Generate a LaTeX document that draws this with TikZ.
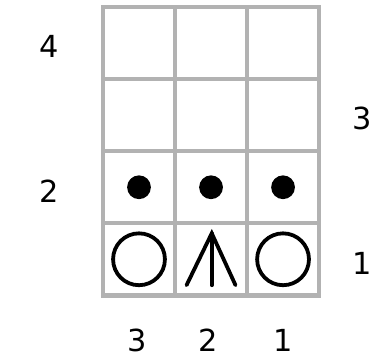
\documentclass[tikz,border=0pt]{standalone}
\usepackage{fontspec}
\setmainfont{DejaVu Sans}
\usetikzlibrary{positioning, calc}
\tikzset{
    gridline/.style={draw=gray!60, line width=1.75pt, line cap=rect},
    rowlabel/.style={font=\fontsize{12}{14}\selectfont, inner sep=0pt},
    dotmark/.style={circle, fill=black, inner sep=0pt, minimum size=0.33cm},
    ringmark/.style={circle, draw=black, line width=1.5pt, inner sep=0pt, minimum size=0.72cm},
    stitch/.style={line width=1.5pt, line cap=round}
}

\begin{document}
\begin{tikzpicture}
			\useasboundingbox (-1.43,-0.93) rectangle (3.86,4.10);
			% Chart grid
			\draw [gridline] (0,0) grid (3,4);
			
			% Row 2
			\node (dot_a) [dotmark] at (0.5,1.5) {};
			\node (dot_b) [dotmark] at (1.5,1.5) {};
			\node (dot_c) [dotmark] at (2.5,1.5) {};
			
			% Row 1
			\node (yo_a) [ringmark] at (0.5,0.5) {};
			\node (yo_b) [ringmark] at (2.5,0.5) {};
			\coordinate (cdd_top) at (1.51,0.86);
			\coordinate (cdd_left) at (1.16,0.14);
			\coordinate (cdd_mid) at (1.51,0.14);
			\coordinate (cdd_right) at (1.84,0.14);
			\draw [stitch] (cdd_left) -- (cdd_top) -- (cdd_right);
			\draw [stitch] (cdd_top) -- (cdd_mid);
			
			% Row numbers
			\node (row4) [rowlabel] at (-0.75,3.45) {4};
			\node (row2) [rowlabel] at (-0.75,1.45) {2};
			\node (row3) [rowlabel] at (3.6,2.46) {3};
			\node (row1) [rowlabel] at (3.6,0.44) {1};
			
			% Column numbers
			\node (col3) [rowlabel] at (0.48,-0.63) {3};
			\node (col2) [rowlabel] at (1.46,-0.63) {2};
			\node (col1) [rowlabel] at (2.5,-0.63) {1};
		\end{tikzpicture}
\end{document}
